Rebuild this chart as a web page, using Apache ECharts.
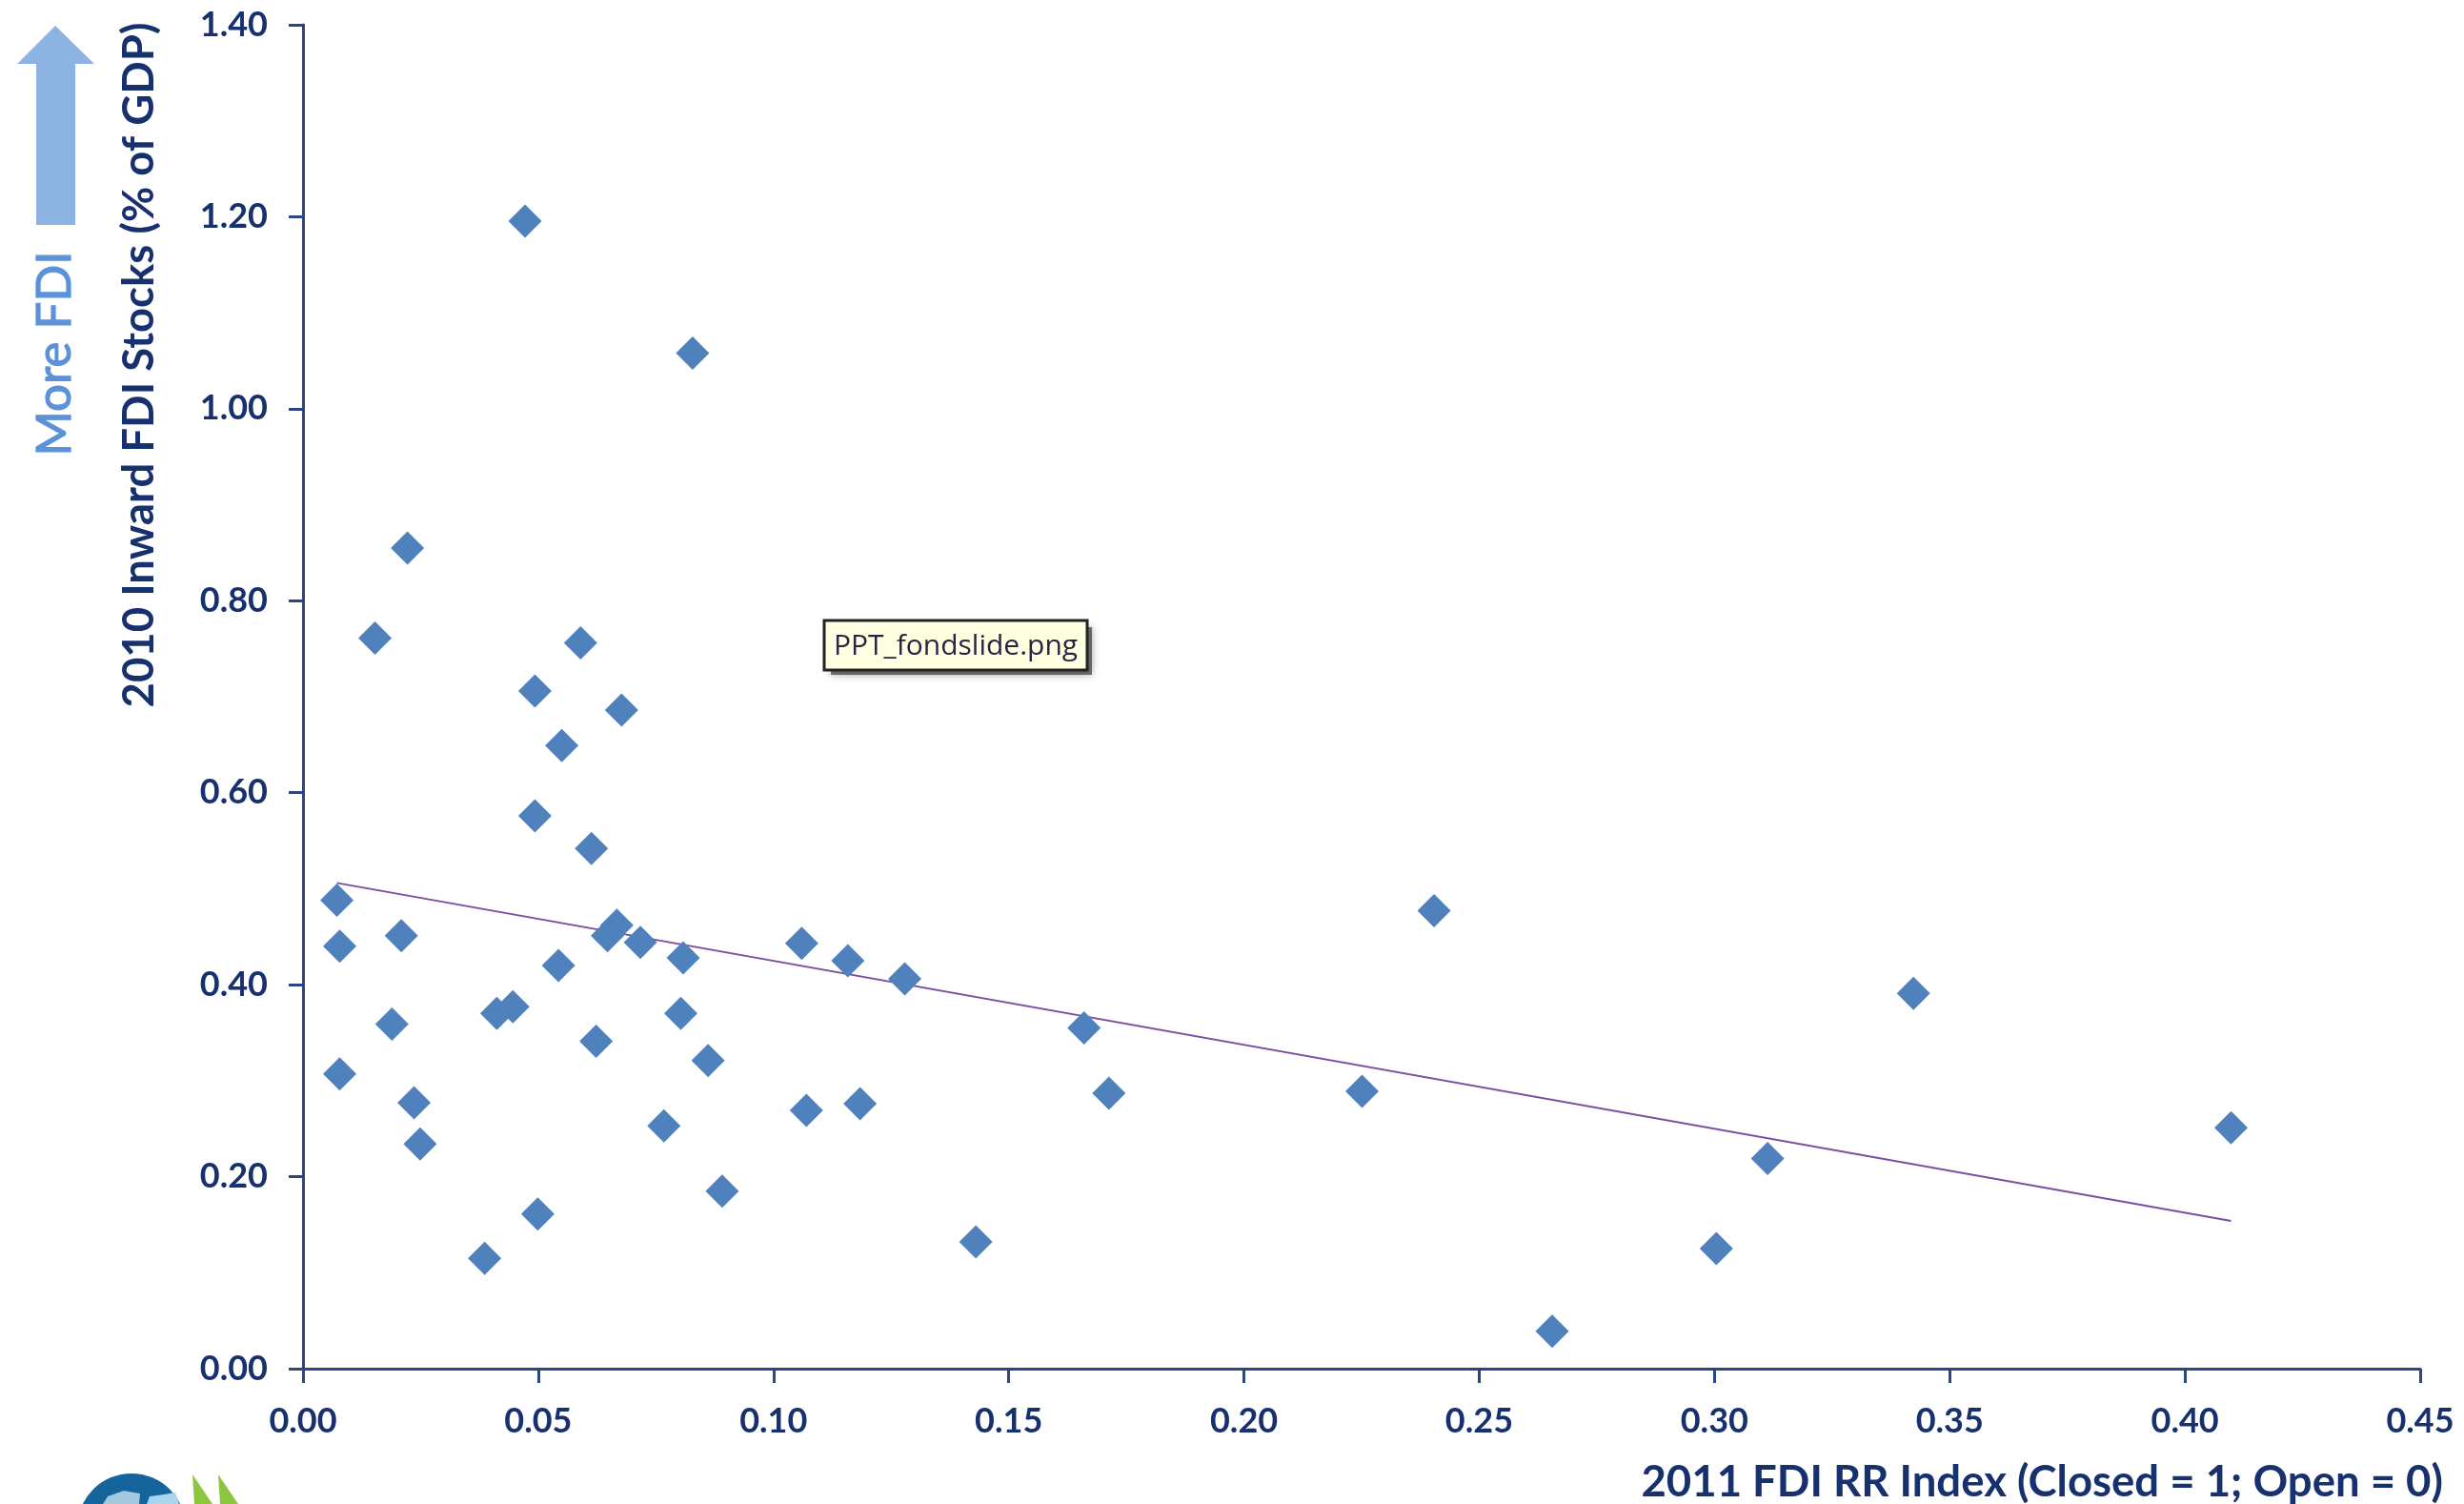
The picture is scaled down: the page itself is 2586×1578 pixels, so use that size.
<!DOCTYPE html>
<html>
<head>
<meta charset="utf-8">
<title>FDI stocks vs FDI RR index</title>
<style>
  html, body { margin: 0; padding: 0; background: #fff; }
  #chart { width: 2586px; height: 1578px; }
</style>
<script src="https://cdn.jsdelivr.net/npm/echarts@6/dist/echarts.min.js"></script>
</head>
<body>
<div id="chart"></div>
<script>
// values
const rrIndex = [0.0472, 0.0828, 0.0222, 0.0153, 0.0590, 0.0493, 0.0677, 0.0550, 0.0493, 0.0613, 0.0072, 0.0078, 0.0209, 0.0667, 0.0647, 0.0717, 0.0808, 0.0543, 0.1060, 0.1158, 0.1279, 0.0412, 0.0446, 0.0803, 0.0189, 0.0623, 0.0078, 0.0861, 0.0236, 0.0249, 0.0767, 0.1070, 0.1184, 0.0499, 0.0891, 0.0386, 0.1430, 0.1660, 0.1713, 0.2251, 0.2404, 0.3423, 0.3113, 0.3004, 0.2655, 0.4098]
const fdiStocks = [1.1955, 1.058, 0.855, 0.761, 0.756, 0.706, 0.686, 0.649, 0.576, 0.542, 0.488, 0.440, 0.451, 0.462, 0.451, 0.444, 0.428, 0.420, 0.443, 0.425, 0.406, 0.370, 0.377, 0.370, 0.359, 0.341, 0.307, 0.321, 0.277, 0.234, 0.253, 0.269, 0.276, 0.161, 0.185, 0.115, 0.132, 0.355, 0.287, 0.289, 0.477, 0.391, 0.219, 0.125, 0.039, 0.251]
const trendX = [0.0072, 0.4098]
const trendY = [0.506, 0.154]

const navy = '#17306e'
const axisColor = '#2b4585'
const labelFont = 'Lato'

const chart = echarts.init(document.getElementById('chart'))

const option = {
  animation: false,
  backgroundColor: '#fff',
  grid: { left: 318, top: 26, width: 2222, height: 1413, containLabel: false },
  xAxis: {
    type: 'value',
    min: 0,
    max: 0.45,
    interval: 0.05,
    name: '2011 FDI RR Index (Closed = 1; Open = 0)',
    nameLocation: 'end',
    nameGap: 24,
    nameTextStyle: {
      align: 'right',
      verticalAlign: 'top',
      padding: [96, 0, 0, 0],
      color: navy,
      fontFamily: labelFont,
      fontWeight: 'bold',
      fontSize: 45.5
    },
    splitLine: { show: false },
    axisLine: { onZero: false, lineStyle: { color: axisColor, width: 3 } },
    axisTick: { length: 15, lineStyle: { color: axisColor, width: 3 } },
    axisLabel: {
      margin: 37,
      color: navy,
      fontFamily: labelFont,
      fontWeight: 'bold',
      fontSize: 36,
      formatter: (v) => v.toFixed(2)
    }
  },
  yAxis: {
    type: 'value',
    min: 0,
    max: 1.4,
    interval: 0.2,
    splitLine: { show: false },
    axisLine: { onZero: false, lineStyle: { color: axisColor, width: 3 } },
    axisTick: { length: 15, lineStyle: { color: axisColor, width: 3 } },
    axisLabel: {
      margin: 37,
      color: navy,
      fontFamily: labelFont,
      fontWeight: 'bold',
      fontSize: 36,
      formatter: (v) => v.toFixed(2)
    }
  },
  series: [
    {
      type: 'line',
      data: trendX.map((x, i) => [x, trendY[i]]),
      symbol: 'none',
      lineStyle: { color: '#7a4fa0', width: 2 },
      z: 2
    },
    {
      type: 'scatter',
      data: rrIndex.map((x, i) => [x, fdiStocks[i]]),
      symbol: 'diamond',
      symbolSize: 35,
      itemStyle: { color: '#4f81bd', opacity: 1 },
      z: 3
    }
  ],
  graphic: [
    // y axis title
    {
      type: 'text',
      x: 146,
      y: 383,
      rotation: Math.PI / 2,
      style: {
        text: '2010 Inward FDI Stocks (% of GDP)',
        fill: navy,
        font: 'bold 45.5px Lato',
        align: 'center',
        verticalAlign: 'middle'
      }
    },
    // more FDI arrow
    {
      type: 'polygon',
      shape: { points: [[58, 27], [99, 67], [79, 67], [79, 236], [38, 236], [38, 67], [18, 67]] },
      style: { fill: '#8db3e2' }
    },
    {
      type: 'text',
      x: 58,
      y: 371,
      rotation: Math.PI / 2,
      style: {
        text: 'More FDI',
        fill: '#5b92d8',
        stroke: '#5b92d8',
        lineWidth: 1.2,
        font: '51px Lato',
        align: 'center',
        verticalAlign: 'middle'
      }
    },
    // stray tooltip in the screenshot
    {
      type: 'rect',
      shape: { x: 872, y: 658, width: 274, height: 50 },
      style: { fill: 'rgba(60,60,60,0.7)', shadowBlur: 8, shadowColor: 'rgba(0,0,0,0.5)' },
      z: 10
    },
    {
      type: 'rect',
      shape: { x: 865, y: 651, width: 276, height: 52 },
      style: { fill: '#ffffe1', stroke: '#222', lineWidth: 3 },
      z: 11
    },
    {
      type: 'text',
      x: 1003,
      y: 678,
      style: {
        text: 'PPT_fondslide.png',
        fill: '#2a2440',
        font: '30px "Open Sans"',
        align: 'center',
        verticalAlign: 'middle'
      },
      z: 12
    },
    // logo cut off by the bottom edge
    {
      type: 'circle',
      shape: { cx: 138, cy: 1603, r: 57 },
      style: { fill: '#15649c' }
    },
    {
      type: 'polygon',
      shape: { points: [[113, 1570], [130, 1564], [147, 1567], [146, 1578], [108, 1578]] },
      style: { fill: '#a4c8de' }
    },
    {
      type: 'polygon',
      shape: { points: [[157, 1570], [172, 1568], [184, 1566], [188, 1578], [154, 1578]] },
      style: { fill: '#a9d6ee' }
    },
    {
      type: 'polygon',
      shape: { points: [[202, 1547], [223, 1578], [204, 1578]] },
      style: { fill: '#8cc63f' }
    },
    {
      type: 'polygon',
      shape: { points: [[229, 1547], [250, 1578], [231, 1578]] },
      style: { fill: '#8cc63f' }
    }
  ]
}

chart.setOption(option)
</script>
</body>
</html>
